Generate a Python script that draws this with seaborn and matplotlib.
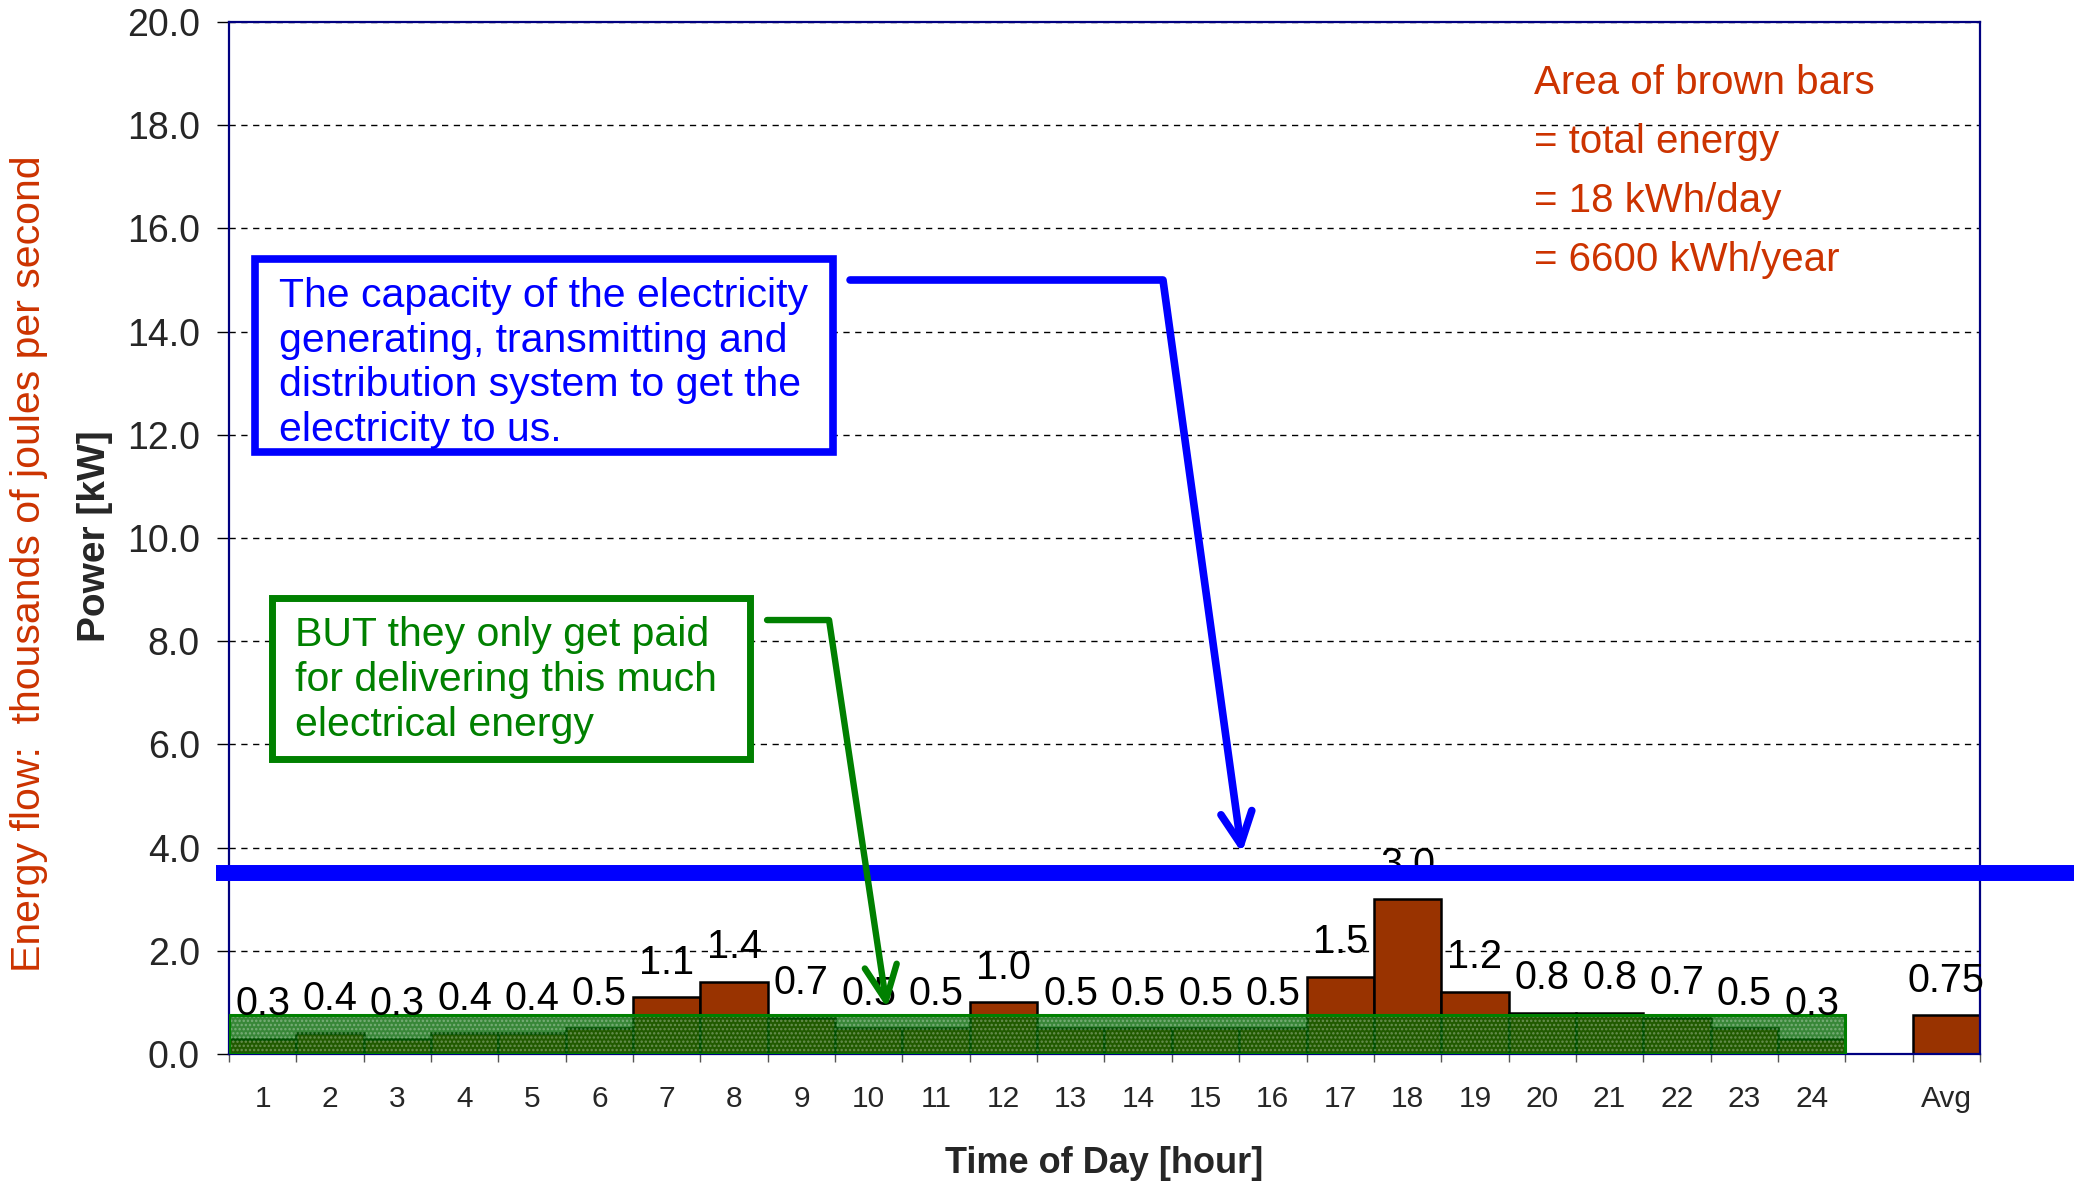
import numpy as np
import pandas as pd
import matplotlib
matplotlib.use("Agg")
import matplotlib.pyplot as plt
import matplotlib.transforms as mtransforms
from matplotlib.patches import Rectangle, FancyArrowPatch
from matplotlib.path import Path
from matplotlib.ticker import FixedLocator, FixedFormatter, FormatStrFormatter
import seaborn as sns

# ---- data -------------------------------------------------------------
hours = [str(h) for h in range(1, 25)]
hourly_kw = [0.3, 0.4, 0.3, 0.4, 0.4, 0.5, 1.1, 1.4, 0.7, 0.5, 0.5, 1.0,
             0.5, 0.5, 0.5, 0.5, 1.5, 3.0, 1.2, 0.8, 0.8, 0.7, 0.5, 0.3]
avg_label = "Avg"
avg_kw = 0.75
capacity_kw = 3.5
gap_label = " "
slot_order = hours + [gap_label, avg_label]

y_ticks = [0, 2, 4, 6, 8, 10, 12, 14, 16, 18, 20]

energy_note = ["Area of brown bars", "= total energy",
               "= 18 kWh/day", "= 6600 kWh/year"]
capacity_note = ["The capacity of the electricity",
                 "generating, transmitting and",
                 "distribution system to get the",
                 "electricity to us."]
paid_note = ["BUT they only get paid",
             "for delivering this much",
             "electrical energy"]

# ---- style ------------------------------------------------------------
BROWN = "#993300"
ORANGE = "#CC3300"
BLUE = "#0000FF"
GREEN = "#008000"
NAVY = "#000080"

sns.set_style("white")
plt.rcParams["font.family"] = ["Liberation Sans", "DejaVu Sans"]

fig = plt.figure(figsize=(20.74, 11.81), dpi=100)
ax = fig.add_axes([0.11041, 0.10754, 0.84426, 0.87384])

df = pd.DataFrame({"slot": hours + [avg_label], "kw": hourly_kw + [avg_kw]})
sns.barplot(data=df, x="slot", y="kw", order=slot_order, color=BROWN,
            saturation=1, width=1, edgecolor="black", linewidth=1.8,
            errorbar=None, ax=ax, zorder=2)

ax.set_xlim(-0.5, len(slot_order) - 0.5)
ax.set_ylim(y_ticks[0], y_ticks[-1])

# dashed horizontal grid
ax.set_axisbelow(True)
ax.yaxis.grid(True, color="black", linestyle=(0, (4.5, 4)), linewidth=1.0)
ax.xaxis.grid(False)

for sp in ax.spines.values():
    sp.set_visible(True)
    sp.set_color(NAVY)
    sp.set_linewidth(1.6)

# y axis ticks
ax.yaxis.set_major_locator(FixedLocator(y_ticks))
ax.yaxis.set_major_formatter(FormatStrFormatter("%.1f"))
ax.tick_params(axis="y", which="major", direction="out", length=9, width=1,
               color="black", pad=12, labelsize=27, left=True)

# x axis: tick marks on slot boundaries, labels at slot centres
n = len(slot_order)
ax.xaxis.set_major_locator(FixedLocator(np.arange(n + 1) - 0.5))
ax.xaxis.set_major_formatter(FixedFormatter([""] * (n + 1)))
ax.xaxis.set_minor_locator(FixedLocator(np.arange(n)))
ax.xaxis.set_minor_formatter(FixedFormatter(slot_order))
ax.tick_params(axis="x", which="major", direction="out", length=6, width=1,
               color="#555555", bottom=True)
ax.tick_params(axis="x", which="minor", length=0, pad=22, labelsize=21.5,
               bottom=True)

# value labels above each bar
for i, cat in enumerate(slot_order):
    if cat in hours:
        v = hourly_kw[hours.index(cat)]
        txt = f"{v:.1f}"
    elif cat == avg_label:
        v = avg_kw
        txt = f"{v:.2f}"
    else:
        continue
    ax.annotate(txt, xy=(i, v), xytext=(0, 17), textcoords="offset points",
                ha="center", va="baseline", fontsize=28.5, color="black",
                zorder=4)

# shaded band: average power over the 24 hours
ax.add_patch(Rectangle((-0.5, 0), len(hours), avg_kw,
                       facecolor=(0.0, 0.40, 0.0, 0.78), edgecolor="none",
                       zorder=3))
plt.rcParams["hatch.linewidth"] = 1.2
ax.add_patch(Rectangle((-0.5, 0), len(hours), avg_kw, fill=False,
                       hatch="....", edgecolor=(1, 1, 1, 0.30), linewidth=0,
                       zorder=3.1))
ax.add_patch(Rectangle((-0.5, 0), len(hours), avg_kw, fill=False,
                       edgecolor=GREEN, linewidth=2.2, zorder=3.2))

# system capacity line
blend = mtransforms.blended_transform_factory(ax.transAxes, ax.transData)
ax.plot([-0.0077, 1.2], [capacity_kw, capacity_kw], transform=blend,
        color=BLUE, linewidth=11.5, solid_capstyle="butt", clip_on=False,
        zorder=6)

# axis titles
ax.set_xlabel("Time of Day [hour]", fontsize=26, fontweight="bold")
ax.xaxis.set_label_coords(0.5, -0.1060)
ax.xaxis.label.set_verticalalignment("center")
ax.set_ylabel("Power [kW]", fontsize=28, fontweight="bold")
ax.yaxis.set_label_coords(-0.0765, 0.502)
ax.yaxis.label.set_verticalalignment("center")
ax.text(-0.1142, 0.475, "Energy flow:  thousands of joules per second",
        transform=ax.transAxes, rotation=90, ha="center", va="center",
        fontsize=29.5, color=ORANGE)

# energy note (top right)
for k, line in enumerate(energy_note):
    ax.text(0.7453, 0.9410 - k * 0.0572, line, transform=ax.transAxes,
            ha="left", va="center", fontsize=29, color=ORANGE, zorder=5)

# capacity callout box
ax.add_patch(Rectangle((0.0147, 0.5831), 0.3304, 0.1875,
                       transform=ax.transAxes, facecolor="white",
                       edgecolor=BLUE, linewidth=5.5, joinstyle="miter",
                       zorder=5))
for k, line in enumerate(capacity_note):
    ax.text(0.0286, 0.7346 - k * 0.0433, line, transform=ax.transAxes,
            ha="left", va="center", fontsize=29.5, color=BLUE, zorder=5.5)
ax.add_patch(FancyArrowPatch(
    path=Path([(0.3547, 0.750), (0.5334, 0.750), (0.5785, 0.1948)]),
    transform=ax.transAxes, arrowstyle="->,head_length=1.15,head_width=0.56",
    mutation_scale=20, color=BLUE, linewidth=5.5, zorder=7, clip_on=False))

# revenue callout box
ax.add_patch(Rectangle((0.0243, 0.2863), 0.2730, 0.1560,
                       transform=ax.transAxes, facecolor="white",
                       edgecolor=GREEN, linewidth=5.0, joinstyle="miter",
                       zorder=5))
for k, line in enumerate(paid_note):
    ax.text(0.0377, 0.4061 - k * 0.0436, line, transform=ax.transAxes,
            ha="left", va="center", fontsize=29.5, color=GREEN, zorder=5.5)
ax.add_patch(FancyArrowPatch(
    path=Path([(0.3073, 0.4205), (0.3427, 0.4205), (0.3758, 0.0446)]),
    transform=ax.transAxes, arrowstyle="->,head_length=1.25,head_width=0.58",
    mutation_scale=20, color=GREEN, linewidth=4.6, zorder=8, clip_on=False))

fig.savefig("out.png", dpi=100)
